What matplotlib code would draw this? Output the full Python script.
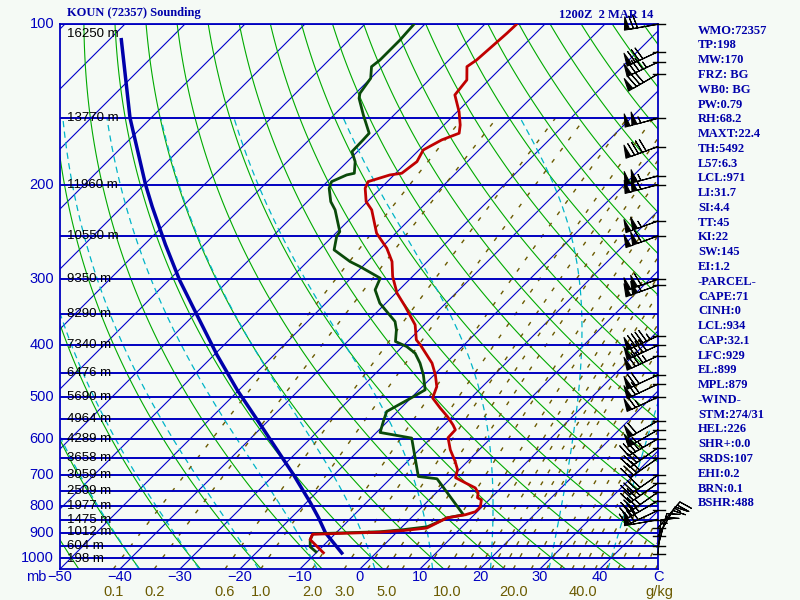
import numpy as np
import matplotlib
matplotlib.use('Agg')
import matplotlib.pyplot as plt

temp_p = [100.1, 104.1, 110.3, 116.8, 120.2, 127.3, 135.8, 146.0, 154.6, 160.2, 164.9, 172.2,
          181.1, 190.4, 191.8, 197.4, 203.1, 215.2, 223.0, 246.6, 263.1, 278.7, 297.3, 319.4,
          338.4, 366.2, 390.7, 399.2, 432.0, 454.3, 478.0, 502.0, 524.0, 545.0, 564.0, 576.0,
          596.0, 628.0, 661.0, 684.0, 708.0, 724.0, 740.0, 756.0, 772.0, 779.0, 803.0, 820.0,
          831.0, 842.0, 880.0, 889.0, 896.0, 900.0, 904.0, 925.0, 937.0, 979.0]
temp_t = [-64.7, -64.8, -65.1, -65.4, -65.9, -63.7, -63.2, -59.7, -57.3, -56.1, -57.9, -59.3,
          -58.4, -59.0, -60.7, -63.2, -62.6, -60.2, -57.9, -53.2, -49.0, -45.9, -43.3, -39.8,
          -36.2, -31.5, -28.8, -27.3, -22.3, -19.8, -17.6, -16.4, -13.5, -10.7, -8.5, -7.3,
          -7.2, -4.8, -2.0, -0.3, 0.7, 3.2, 5.7, 7.0, 7.7, 8.7, 9.7, 9.7,
          8.5, 6.0, 4.3, 1.0, -3.0, -8.5, -13.7, -13.2, -12.2, -8.8]

dew_p = [100.1, 107.1, 116.8, 120.2, 126.4, 134.8, 137.8, 148.1, 160.2, 164.9, 173.4, 181.1,
         190.4, 191.8, 197.4, 203.1, 215.2, 223.0, 244.9, 250.2, 265.0, 278.7, 284.8, 299.4,
         314.9, 333.5, 361.0, 374.1, 393.5, 402.1, 413.7, 432.0, 454.3, 484.7, 498.9, 532.2,
         555.6, 582.6, 596.9, 704.4, 711.4, 830.9, 842.0, 875.0, 886.0, 894.0, 898.0, 902.0,
         925.0, 954.0, 975.0]
dew_t = [-81.8, -81.5, -81.5, -81.8, -80.0, -79.3, -78.6, -75.1, -71.1, -71.0, -70.9, -68.7,
         -66.9, -67.9, -69.3, -68.6, -66.1, -64.0, -59.6, -59.3, -57.5, -52.9, -50.4, -45.1,
         -44.0, -41.0, -35.4, -33.8, -32.0, -29.3, -26.8, -24.3, -21.8, -19.0, -19.8, -21.8,
         -20.7, -19.4, -13.2, -5.7, -2.2, 8.2, 6.0, 4.2, 0.7, -2.8, -8.2, -13.7,
         -13.2, -12.0, -10.2]

# trayectoria de la parcela (linea azul gruesa)
parcela_p = [107, 150, 200, 220, 259, 302, 351, 417, 485, 569, 699, 789, 841, 898, 980]
parcela_t = [-128.0, -113.5, -99.8, -95.0, -86.5, -78.2, -69.5, -59.5, -50.3, -40.0, -26.8,
             -19.3, -15.5, -11.8, -5.7]

# viento
viento_p = [100.1, 112.7, 117.9, 124.1, 150.2, 169.7, 192.6, 200.0, 233.9, 249.5, 300.7, 308.6,
            384.0, 400.0, 418.5, 454.3, 472.9, 500.0, 553.9, 576.0, 598.7, 622.4, 650.6, 700.0,
            724.7, 753.4, 782.2, 815.6, 849.0, 879.8, 912.3, 952.6, 983.0]
viento_dir = [260, 245, 245, 240, 255, 250, 255, 255, 250, 250, 250, 250,
              245, 245, 245, 245, 245, 245, 240, 240, 240, 235, 235, 235,
              235, 235, 240, 245, 260, 40, 30, 15, 5]
viento_vel = [70, 80, 85, 80, 105, 90, 105, 110, 105, 110, 110, 105,
              95, 90, 85, 70, 70, 65, 60, 55, 45, 40, 40, 40,
              35, 35, 35, 40, 50, 25, 20, 20, 15]

# niveles de presion y alturas
niveles_p = [100, 150, 200, 250, 300, 350, 400, 450, 500, 550, 600, 650, 700, 750, 800, 850, 900, 950, 1000]
alturas = ['16250 m', '13770 m', '11960 m', '10550 m', '9350 m', '8290 m', '7340 m', '6476 m',
           '5690 m', '4964 m', '4289 m', '3658 m', '3059 m', '2509 m', '1977 m', '1475 m',
           '1012 m', '604 m', '198 m']
etiquetas_p = [100, 200, 300, 400, 500, 600, 700, 800, 900, 1000]
etiquetas_t = [-50, -40, -30, -20, -10, 0, 10, 20, 30, 40]
razon_mezcla = [0.1, 0.2, 0.6, 1.0, 2.0, 3.0, 5.0, 10.0, 20.0, 40.0]
razon_lineas = [0.1, 0.2, 0.6, 1.0, 2.0, 3.0, 4.0, 5.0, 6.0, 8.0, 10.0, 12.0, 14.0, 16.0, 18.0,
                20.0, 24.0, 28.0, 32.0, 36.0, 40.0, 45.0, 50.0, 56.0, 64.0, 72.0, 80.0]

indices = ['WMO:72357', 'TP:198', 'MW:170', 'FRZ: BG', 'WB0: BG', 'PW:0.79', 'RH:68.2',
           'MAXT:22.4', 'TH:5492', 'L57:6.3', 'LCL:971', 'LI:31.7', 'SI:4.4', 'TT:45', 'KI:22',
           'SW:145', 'EI:1.2', '-PARCEL-', 'CAPE:71', 'CINH:0', 'LCL:934', 'CAP:32.1', 'LFC:929',
           'EL:899', 'MPL:879', '-WIND-', 'STM:274/31', 'HEL:226', 'SHR+:0.0', 'SRDS:107',
           'EHI:0.2', 'BRN:0.1', 'BSHR:488']

P_BOT, P_TOP = 1050.0, 100.0
SKEW = 38.63

FONDO = '#f5faf5'
AZUL = '#0000c0'
OLIVA = '#6b5a00'
FUENTE_NUM = 'Liberation Sans'
TAM_NUM = 10.5


def skx(t, p):
    return np.asarray(t, dtype=float) + SKEW * np.log(P_BOT / np.asarray(p, dtype=float))


def t_mezcla(w, p):
    e = w * p / (622.0 + w)
    a = np.log(e / 6.112)
    return 243.5 * a / (17.67 - a)


def gradiente_humedo(p, tk):
    es = 6.112 * np.exp(17.67 * (tk - 273.15) / (tk - 29.65))
    rs = 0.622 * es / (p - es)
    return (287.04 * tk + 2.501e6 * rs) / (p * (1005.7 + 2.501e6 ** 2 * rs * 0.622 / (287.04 * tk ** 2)))


def integrar(t0, ps):
    tk = [t0 + 273.15]
    for i in range(len(ps) - 1):
        h = ps[i + 1] - ps[i]
        p, t = ps[i], tk[-1]
        k1 = gradiente_humedo(p, t)
        k2 = gradiente_humedo(p + h / 2, t + h / 2 * k1)
        k3 = gradiente_humedo(p + h / 2, t + h / 2 * k2)
        k4 = gradiente_humedo(p + h, t + h * k3)
        tk.append(t + h / 6 * (k1 + 2 * k2 + 2 * k3 + k4))
    return np.array(tk) - 273.15


def adiabata_humeda(tw):
    p_arriba = np.linspace(1000, 150, 341)
    p_abajo = np.linspace(1000, 1050, 21)
    t_arriba = integrar(tw, p_arriba)
    t_abajo = integrar(tw, p_abajo)
    p = np.concatenate([p_abajo[::-1], p_arriba[1:]])
    t = np.concatenate([t_abajo[::-1], t_arriba[1:]])
    return p, t


fig = plt.figure(figsize=(8, 6), dpi=100, facecolor=FONDO)
ax = fig.add_axes([60 / 800, 31 / 600, 598 / 800, 545 / 600])
ax.set_facecolor(FONDO)
ax.set_yscale('log')
ax.set_ylim(P_BOT, P_TOP)
ax.set_xlim(-50, 49.67)
ax.set_xticks([])
ax.set_yticks([])
ax.set_yticks([], minor=True)
for s in ax.spines.values():
    s.set_color(AZUL)
    s.set_linewidth(1.3)

pp = np.logspace(np.log10(P_BOT), np.log10(P_TOP), 120)

# isotermas
for t in range(-150, 60, 10):
    ax.plot(skx([t, t], [P_BOT, P_TOP]), [P_BOT, P_TOP], color='#0000cc', lw=0.8, zorder=1)

# adiabatas secas
for th in range(-60, 200, 10):
    tt = (th + 273.15) * (pp / 1000.0) ** 0.2857 - 273.15
    ax.plot(skx(tt, pp), pp, color='#00aa00', lw=0.8, zorder=1)

# adiabatas humedas
for tw in range(-40, 50, 10):
    p_h, t_h = adiabata_humeda(tw)
    ax.plot(skx(t_h, p_h), p_h, color='#00b4c8', lw=0.9, ls=(0, (5, 3.5)), zorder=1)

# razon de mezcla
pm = np.logspace(np.log10(P_BOT), np.log10(150), 80)
for w in razon_lineas:
    ax.plot(skx(t_mezcla(w, pm), pm), pm, color=OLIVA, lw=1.0, ls=(0, (3, 7)), zorder=1)

# isobaras
for p in niveles_p:
    ax.plot([-50, 49.67], [p, p], color=AZUL, lw=1.4, zorder=2)

# perfiles
ax.plot(skx(parcela_t, parcela_p), parcela_p, color='#0000aa', lw=2.5, zorder=3)
ax.plot(skx(dew_t, dew_p), dew_p, color='#0a4a0a', lw=2, zorder=4)
ax.plot(skx(temp_t, temp_p), temp_p, color='#c00000', lw=2, zorder=4)

# viento
ytrans = ax.get_yaxis_transform()
xtrans = ax.get_xaxis_transform()
rad = np.radians(viento_dir)
u = -np.array(viento_vel) * np.sin(rad)
v = -np.array(viento_vel) * np.cos(rad)
ax.barbs(np.ones(len(viento_p)), viento_p, u, v, transform=ytrans, length=7, lw=0.8,
         color='black', clip_on=False, zorder=5,
         sizes=dict(emptybarb=0, height=0.38, width=0.15, spacing=0.12))
for p in viento_p:
    ax.plot([0.9916, 1.0117], [p, p], transform=ytrans, color='black', lw=1, clip_on=False, zorder=5)

# textos del eje
for p in etiquetas_p:
    ax.text(-0.01, p, str(p), transform=ytrans, ha='right', va='center', color=AZUL,
            fontsize=TAM_NUM, family=FUENTE_NUM)
ajuste = {100: 104.5, 900: 896.5, 950: 950.0, 1000: 1007.0}
for p, h in zip(niveles_p, alturas):
    ax.text(0.012, ajuste.get(p, p), h, transform=ytrans, ha='left', va='center', color='black',
            fontsize=9.5, family=FUENTE_NUM, zorder=6)
for t in etiquetas_t:
    ax.text(skx(t, P_BOT), -0.0147, str(t).replace('-', '\u2212'), transform=xtrans,
            ha='center', va='center', color=AZUL, fontsize=TAM_NUM, family=FUENTE_NUM)
ax.text(1.0, -0.0147, 'C', transform=ax.transAxes, ha='center', va='center', color=AZUL,
        fontsize=TAM_NUM, family=FUENTE_NUM)
ax.text(-0.04, -0.0147, 'mb', transform=ax.transAxes, ha='center', va='center', color=AZUL,
        fontsize=TAM_NUM, family=FUENTE_NUM)
for w in razon_mezcla:
    ax.text(skx(t_mezcla(w, P_BOT), P_BOT), -0.043, '%.1f' % w, transform=xtrans,
            ha='center', va='center', color=OLIVA, fontsize=TAM_NUM, family=FUENTE_NUM)
ax.text(1.003, -0.043, 'g/kg', transform=ax.transAxes, ha='center', va='center', color=OLIVA,
        fontsize=TAM_NUM, family=FUENTE_NUM)

# titulos e indices
fig.text(67 / 800, 1 - 13 / 600, 'KOUN (72357) Sounding', ha='left', va='center', color='#0000aa',
         fontsize=9, fontweight='bold', family='Liberation Serif')
fig.text(653 / 800, 1 - 15 / 600, '1200Z  2 MAR 14', ha='right', va='center', color='#0000aa',
         fontsize=9, fontweight='bold', family='Liberation Serif')
for i, s in enumerate(indices):
    fig.text(698 / 800, 1 - (30.7 + i * 14.77) / 600, s, ha='left', va='center', color='#0000aa',
             fontsize=9, fontweight='bold', family='Liberation Serif')

fig.savefig('out.png', dpi=100, facecolor=FONDO)
